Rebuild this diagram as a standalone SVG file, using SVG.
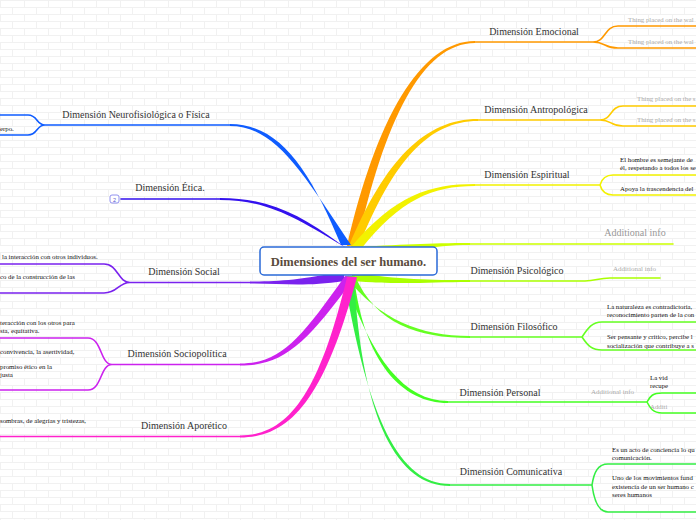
<svg xmlns="http://www.w3.org/2000/svg" width="696" height="520" viewBox="0 0 696 520">
<defs>
<pattern id="brick" width="24" height="14" patternUnits="userSpaceOnUse">
<rect width="24" height="14" fill="#ffffff"/>
<path d="M0,0.5H24M0,7.5H24M0.5,0V7M12.5,7V14" stroke="#f1f1f1" stroke-width="1" fill="none"/>
</pattern>
</defs>
<style>
.lbl{font-family:"Liberation Serif","Times New Roman",serif;font-size:10px;fill:#333;text-anchor:middle}
.sm{font-family:"Liberation Serif","Times New Roman",serif;font-size:6.8px;fill:#111}
.gr{font-family:"Liberation Serif","Times New Roman",serif;font-size:6.8px;fill:#aaa}
.ln{fill:none;stroke-width:1.6;stroke-linecap:round}
</style>
<rect width="696" height="520" fill="url(#brick)"/>

<g id="connectors">
<path d="M347,246 C376,120 420,41 475,41 L475,43 C422,43 384,122 357,246 Z" fill="#ff9900"/>
<path class="ln" stroke="#ff9900" d="M475,42 H593 M593,42 C606,42 604,26 618,26 H696 M593,42 C606,42 604,48 618,48 H696"/>
<path d="M349,246 C385,160 425,119 478,119 L478,121 C428,121 393,162 359,246 Z" fill="#ffcc00"/>
<path class="ln" stroke="#ffcc00" d="M478,120 H600 M600,120 C612,120 610,106 623,106 H696 M600,120 C612,120 610,126 623,126 H696"/>
<path d="M351,247 C395,195 430,184 475,184 L475,186 C432,186 400,200 361,249 Z" fill="#f2f200"/>
<path class="ln" stroke="#f2f200" d="M475,185 H600 M600,185 C602,178 606,175 613,175 H696 M600,185 C602,192 606,195 613,195 H696"/>
<path d="M350,247 C400,245 430,243 470,243 L470,245 C432,245 402,253 350,255 Z" fill="#ccff00"/>
<path class="ln" stroke="#ccff00" d="M470,244 H673"/>
<path d="M352,272 C400,280 430,280 470,280 L470,282 C430,282 400,285 352,281 Z" fill="#aaff00"/>
<path class="ln" stroke="#aaff00" d="M470,281 H585 C596,281 598,278 610,278 H660"/>
<path d="M345,276 C380,320 420,336 470,336 L470,338 C418,338 376,324 355,276 Z" fill="#66ff22"/>
<path class="ln" stroke="#66ff22" d="M470,337 H582 M582,337 C588,328 592,322 602,322 H696 M582,337 C588,346 592,350 602,350 H696"/>
<path d="M344,277 C372,360 405,401 448,401 L448,403 C402,403 364,362 354,277 Z" fill="#44ff22"/>
<path class="ln" stroke="#44ff22" d="M448,402 H647 M647,402 C650,396 653,393 662,393 H696 M647,402 C650,408 653,413 662,413 H696"/>
<path d="M344,277 C368,420 400,484 450,484 L450,486 C398,486 362,422 354,277 Z" fill="#33ee44"/>
<path class="ln" stroke="#33ee44" d="M450,485 H592 M592,485 C594,472 598,464 608,464 H696 M592,485 C594,500 598,512 608,512 H696"/>
<path d="M341,245 C310,170 280,124 230,124 L230,126 C275,126 302,172 351,245 Z" fill="#0f5cff"/>
<path class="ln" stroke="#0f5cff" d="M230,125 H45 M45,125 C36,125 38,115 28,115 H0 M45,125 C36,125 38,135 28,135 H0"/>
<path d="M339,243 C300,215 270,198 220,198 L220,200 C268,200 296,218 348,249 Z" fill="#3311ee"/>
<path class="ln" stroke="#3311ee" d="M220,199 H121"/>
<path d="M344,271 C300,280 280,281.5 250,281.5 L250,283.5 C282,283.5 305,287 344,281 Z" fill="#7a22ee"/>
<path class="ln" stroke="#7a22ee" d="M250,282.5 H130 M130,282.5 C118,282.5 118,264 104,264 H0 M130,282.5 C118,282.5 118,293 104,293 H0"/>
<path d="M345,276 C300,340 280,363.5 240,363.5 L240,365.5 C284,365.5 306,344 355,277 Z" fill="#cc22ee"/>
<path class="ln" stroke="#cc22ee" d="M240,364.5 H112 M112,364.5 C100,364.5 102,338 88,338 H0 M112,364.5 C100,364.5 102,390 88,390 H0"/>
<path d="M347,277 C320,390 290,435.5 240,435.5 L240,437.5 C294,437.5 326,392 357,277 Z" fill="#ff22cc"/>
<path class="ln" stroke="#ff22cc" d="M240,436.5 H0"/>
</g>

<g id="center">
<rect x="260" y="247" width="177" height="28" rx="4" fill="#ffffff" stroke="#2a6ad8" stroke-width="1.5"/>
<text x="348.5" y="266" style="font-family:'Liberation Serif','Times New Roman',serif;font-size:12.5px;font-weight:bold;fill:#5a4b3c;text-anchor:middle">Dimensiones del ser humano.</text>
</g>

<g id="emocional">
<text class="lbl" x="534" y="35">Dimensión Emocional</text>
<text class="gr" x="628" y="22">Thing placed on the wal</text>
<text class="gr" x="628" y="44">Thing placed on the wal</text>
</g>
<g id="antropologica">
<text class="lbl" x="536" y="113">Dimensión Antropológica</text>
<text class="gr" x="637" y="101">Thing placed on the s</text>
<text class="gr" x="637" y="122">Thing placed on the s</text>
</g>
<g id="espiritual">
<text class="lbl" x="527" y="178">Dimensión Espiritual</text>
<text class="sm" x="620" y="162">El hombre es semejante de</text>
<text class="sm" x="620" y="170">él, respetando a todos los se</text>
<text class="sm" x="620" y="191">Apoya la trascendencia del</text>
</g>
<g id="additional">
<text class="lbl" x="635" y="236" style="fill:#999">Additional info</text>
</g>
<g id="psicologico">
<text class="lbl" x="517" y="274">Dimensión Psicológico</text>
<text class="gr" x="613" y="271" style="font-size:7px">Additional info</text>
</g>
<g id="filosofico">
<text class="lbl" x="514" y="330">Dimensión Filosófico</text>
<text class="sm" x="607" y="309">La naturaleza es contradictoria,</text>
<text class="sm" x="607" y="317">reconocimiento parten de la con</text>
<text class="sm" x="607" y="339">Ser pensante y crítico, percibe l</text>
<text class="sm" x="607" y="348">socialización que contribuye a s</text>
</g>
<g id="personal">
<text class="lbl" x="500" y="396">Dimensión Personal</text>
<text class="gr" x="591" y="394" style="font-size:7px">Additional info</text>
<text class="sm" x="650" y="380">La vid</text>
<text class="sm" x="650" y="388">recupe</text>
<text class="gr" x="650" y="409">Additi</text>
</g>
<g id="comunicativa">
<text class="lbl" x="511" y="475">Dimensión Comunicativa</text>
<text class="sm" x="612" y="452">Es un acto de conciencia lo qu</text>
<text class="sm" x="612" y="460">comunicación.</text>
<text class="sm" x="612" y="480">Uno de los movimientos fund</text>
<text class="sm" x="612" y="489">existencia de un ser humano c</text>
<text class="sm" x="612" y="497">seres humanos</text>
</g>

<g id="neurofisiologica">
<text class="lbl" x="136" y="118">Dimensión Neurofisiológica o Física</text>
<text class="sm" x="0" y="131">erpo.</text>
</g>
<g id="etica">
<text class="lbl" x="170" y="191">Dimensión Ética.</text>
<rect x="110" y="195" width="9" height="8" rx="2" fill="#fff" stroke="#7777ee" stroke-width="0.8"/>
<text x="114.5" y="201.5" style="font-family:'Liberation Sans',Arial,sans-serif;font-size:5.5px;fill:#5555cc;text-anchor:middle">2</text>
</g>
<g id="social">
<text class="lbl" x="184" y="275">Dimensión Social</text>
<text class="sm" x="2" y="259">la interacción con otros individuos.</text>
<text class="sm" x="0" y="279">co de la construcción de las</text>
</g>
<g id="sociopolitica">
<text class="lbl" x="177" y="357">Dimensión Sociopolítica</text>
<text class="sm" x="0" y="325">teracción con los otros para</text>
<text class="sm" x="0" y="333">sta, equitativa.</text>
<text class="sm" x="0" y="354">convivencia, la asertividad,</text>
<text class="sm" x="0" y="369">promiso ético en la</text>
<text class="sm" x="0" y="377">justa</text>
</g>
<g id="aporetico">
<text class="lbl" x="184" y="429">Dimensión Aporético</text>
<text class="sm" x="0" y="423">sombras, de alegrías y tristezas,</text>
</g>
</svg>
